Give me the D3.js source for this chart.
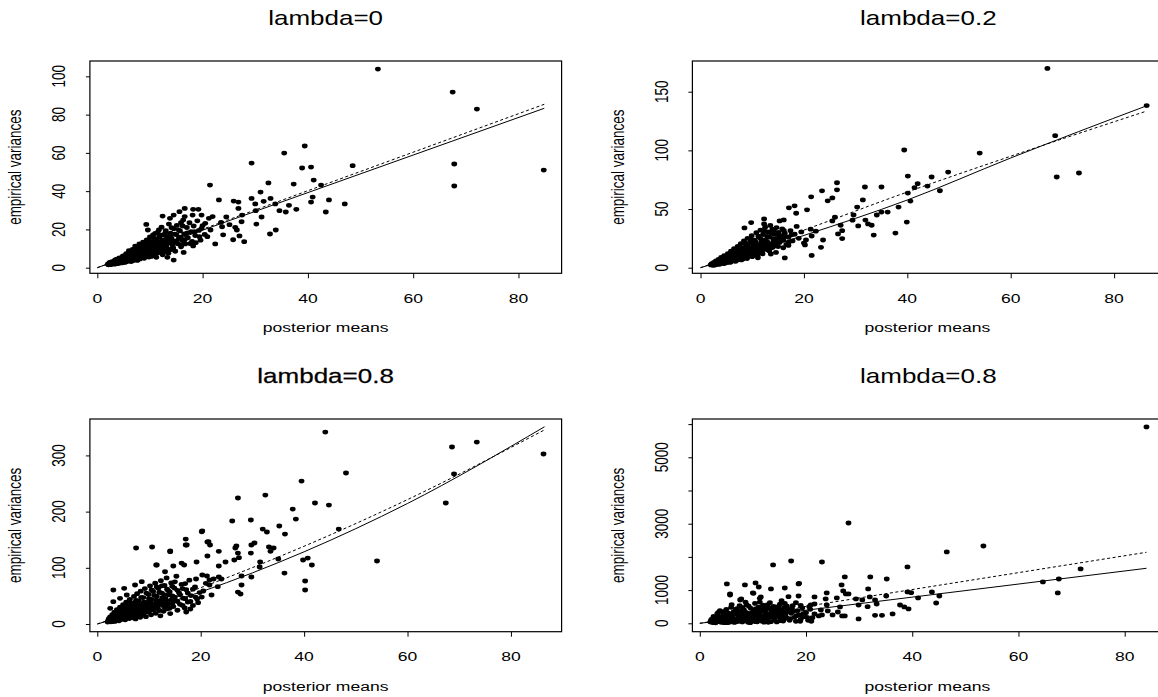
<!DOCTYPE html>
<html>
<head>
<meta charset="utf-8">
<script src="https://cdn.jsdelivr.net/npm/d3@7"></script>
<style>
html,body{margin:0;padding:0;background:#fff;}
svg{display:block;}
text{font-family:"Liberation Sans",Arial,Helvetica,sans-serif;fill:#000;}
</style>
</head>
<body>
<svg id="chart" width="1158" height="697"></svg>
<script>
// ---------------- DATA ----------------
const titles = ["lambda=0", "lambda=0.2", "lambda=0.8", "lambda=0.8"];
const xAxisLabel = "posterior means";
const yAxisLabel = "empirical variances";
const xTicks = [0, 20, 40, 60, 80];
const p1YTicks = [0, 20, 40, 60, 80, 100];
const p2YTicks = [0, 50, 100, 150];
const p3YTicks = [0, 100, 200, 300];
const p4YTicks = [0, 1000, 2000, 3000, 4000, 5000, 6000];
const p4YTickLabels = ["0", "1000", "", "3000", "", "5000", ""];

// panel 1: lambda=0  [posterior mean, empirical variance]
const p1Points = [
[53.3,103.8],[67.5,91.8],[72.1,82.9],[67.8,54.2],[67.8,42.7],[84.8,51.0],[48.5,53.3],[39.4,63.6],[35.5,59.9],[38.9,52.1],
[40.6,52.6],[41.1,45.8],[42.5,43.2],[29.3,54.7],[21.4,43.2],[32.5,44.3],[37.3,43.7],[31.0,39.5],[29.3,36.2],[31.6,34.7],
[32.9,36.2],[33.8,33.3],[30.0,33.3],[23.1,35.4],[25.9,34.8],[26.8,34.3],[26.8,31.0],[40.9,36.9],[40.6,34.3],[44.0,35.4],
[47.0,33.3],[36.4,32.6],[34.6,29.8],[35.8,29.1],[37.8,30.5],[43.4,29.1],[31.2,26.5],[30.1,29.8],[30.2,22.8],[32.8,17.6],
[33.9,19.7],[23.9,17.2],[22.4,12.4],[25.8,14.6],[27.9,13.6],[27.0,16.6],[26.5,19.7],[26.2,21.1],[25.1,22.5],[24.5,26.5],
[27.5,27.5],[27.4,24.0],[23.5,23.7],[23.7,21.4],[21.9,26.7],[21.2,25.8],[20.5,23.2],[19.8,20.6],[21.5,19.7],[20.9,16.2],
[19.4,16.2],[18.5,18.8],[18.7,13.1],[16.6,31.0],[18.2,30.5],[19.2,30.5],[19.8,27.5],[18.1,27.5],[15.6,29.3],[14.5,27.5],
[12.4,27.0],[13.8,25.8],[16.6,26.7],[15.9,23.5],[14.5,4.0],[16.4,8.0],[13.3,5.4],[9.3,22.6],[9.6,19.7],[11.7,19.7],[11.0,17.9],
[2.0,1.8],[2.3,2.5],[2.5,1.6],[2.8,3.1],[3.0,2.2],[3.1,1.9],[3.3,3.6],[3.5,2.6],[3.7,4.4],[3.9,3.0],[4.0,2.2],[4.2,5.1],
[4.4,3.7],[4.5,2.8],[4.7,4.5],[4.9,6.2],[5.0,3.3],[5.2,5.0],[5.3,2.9],[5.5,7.4],[5.6,4.1],[5.8,5.8],[5.9,3.5],[6.0,8.9],
[6.1,6.4],[6.3,4.6],[6.4,3.2],[6.6,7.1],[6.7,9.6],[6.8,5.2],[7.0,4.0],[7.1,6.6],[7.2,11.3],[7.4,8.1],[7.5,5.3],[7.6,3.8],
[7.8,9.9],[7.9,6.9],[8.0,12.4],[8.1,4.6],[8.3,8.4],[8.4,10.8],[8.5,6.0],[8.7,13.3],[8.8,7.4],[8.9,4.9],[9.0,11.2],[9.1,9.2],
[9.3,6.3],[9.4,14.5],[9.5,8.1],[9.7,12.3],[9.8,5.6],[9.9,10.1],[10.0,16.1],[10.1,7.6],[10.3,13.4],[10.4,9.4],[10.5,6.2],
[10.6,17.2],[10.8,11.6],[10.9,8.3],[11.0,14.8],[11.2,5.4],[11.3,10.2],[11.4,12.7],[11.5,18.6],[11.7,7.9],[11.8,15.8],[11.9,9.8],
[12.0,13.6],[12.2,21.2],[12.3,11.1],[12.4,6.7],[12.5,17.1],[12.7,8.9],[12.8,14.7],[12.9,12.0],[13.0,19.4],[13.2,10.2],[13.3,16.2],
[13.5,7.5],[13.6,22.8],[13.7,13.0],[13.9,18.1],[14.0,9.5],[14.1,15.3],[14.3,11.7],[14.5,20.4],[14.6,13.9],[14.8,8.6],[15.0,17.3],
[15.1,22.1],[15.3,12.5],[15.5,15.4],[15.7,19.2],[15.9,10.9],[16.1,14.2],[16.3,24.9],[16.5,17.6],[16.7,12.4],[17.0,21.0],[17.2,15.6],
[17.5,23.5],[17.8,18.9],[18.0,13.7],[18.3,21.8],[18.6,16.8],[19.0,24.5],[19.3,19.5],[19.6,14.4],[20.0,22.0],[20.4,17.4],
[2.2,2.1],[2.6,2.0],[2.9,2.6],[3.4,1.9],[3.6,3.3],[4.1,3.2],[4.6,3.9],[5.1,4.5],[5.4,3.7],[5.7,5.2],[6.2,5.5],[6.5,4.2],
[6.9,6.0],[7.3,4.7],[7.7,7.4],[8.2,6.4],[8.6,8.8],[9.2,7.3],[9.6,9.9],[10.2,8.7],[10.7,10.0],[11.1,9.0],[11.6,11.3],[12.1,10.0],
[12.6,12.9],[13.1,11.3],[13.4,14.4],[14.2,12.9],
[2.1,1.5],[2.4,2.8],[2.7,1.9],[3.2,2.9],[3.4,4.1],[3.8,2.4],[4.3,4.8],[4.6,2.5],[4.9,3.6],[5.2,6.1],[5.5,3.1],[5.7,6.8],
[6.0,4.4],[6.2,7.7],[6.5,5.9],[6.7,3.6],[7.0,8.3],[7.3,5.9],[7.5,10.2],[7.7,4.4],[8.0,7.0],[8.2,9.3],[8.5,11.6],[8.8,5.4],
[9.0,8.6],[9.2,12.9],[9.5,6.8],[9.7,10.7],[10.0,13.2],[10.2,5.9],[10.4,11.9],[10.6,8.9],[10.9,15.3],[11.1,7.0],[11.3,13.9],
[11.6,10.6],[11.9,16.9],[12.1,8.3],[12.4,14.2],[12.7,11.5],[12.9,18.0],[13.2,13.4],[13.5,9.3],[13.8,16.4],[14.1,20.9],[14.4,10.4],
[14.7,17.5],[15.0,13.6],[15.4,19.8],[15.8,16.0],[16.2,21.8],[16.6,14.6],[17.1,18.2],[17.6,12.6],[4.8,5.6],[5.9,7.6],[6.9,9.0],
[7.9,10.8],[8.9,12.2],[9.9,14.0],[10.9,12.7],[11.9,12.9],[3.6,2.1],[5.0,2.7],[6.4,4.0],[7.8,5.1],[9.4,6.1],[11.0,7.3],[12.6,8.1],
[14.4,9.8],[16.0,11.8],[18.2,11.4]
];
const p1Fit = [[0,0],[84.9,83.3]];
const p1Ref = [[0,0],[84.9,85.4]];

// panel 2: lambda=0.2
const p2Points = [
[67.1,169.8],[86.3,138.2],[68.6,112.5],[68.9,77.3],[73.2,80.7],[54.0,97.7],[39.4,100.3],[47.9,81.5],[44.7,77.3],[40.1,78.1],
[43.9,69.6],[42.0,71.6],[41.4,68.2],[46.3,65.6],[40.1,63.6],[40.6,56.8],[38.3,51.7],[36.2,47.4],[35.0,47.4],[34.1,44.9],
[39.9,38.9],[37.7,29.5],[33.5,27.8],[31.8,68.8],[35.0,68.8],[31.4,57.8],[30.3,51.7],[29.6,44.9],[29.4,40.5],[30.5,35.6],
[31.9,40.6],[32.4,37.3],[33.1,36.2],[26.4,72.4],[26.4,66.4],[23.5,65.5],[25.5,59.5],[24.6,57.0],[21.4,60.4],[20.6,49.3],
[18.2,52.7],[17.1,51.0],[18.5,46.4],[15.3,39.9],[16.1,40.7],[16.3,8.3],[21.5,10.5],[23.3,17.4],[23.7,23.6],[21.5,27.0],
[21.3,32.8],[22.3,31.1],[20.2,19.4],[20.4,23.6],[26.0,43.0],[25.5,39.9],[27.1,36.2],[27.4,31.6],[26.6,28.8],[27.4,24.8],
[12.3,41.6],[12.3,37.3],[8.5,33.9],[9.8,38.5],[12.3,31.6],[13.6,11.7],[13.5,16.5],[11.1,8.5],
[2.0,2.4],[2.2,3.5],[2.4,2.1],[2.6,4.6],[2.8,3.0],[3.0,5.8],[3.1,2.7],[3.3,4.0],[3.5,7.1],[3.6,3.3],[3.8,5.3],[4.0,8.8],
[4.1,4.1],[4.3,6.5],[4.5,3.6],[4.6,10.2],[4.8,5.0],[5.0,7.9],[5.1,4.4],[5.3,12.0],[5.4,6.2],[5.6,9.3],[5.8,5.1],[5.9,14.1],
[6.1,7.4],[6.2,11.0],[6.4,5.8],[6.5,16.3],[6.7,8.6],[6.9,12.7],[7.0,6.3],[7.2,18.2],[7.3,10.0],[7.5,14.5],[7.6,7.1],[7.8,20.5],
[8.0,11.4],[8.1,16.6],[8.3,8.0],[8.4,22.9],[8.6,13.0],[8.8,18.7],[8.9,9.2],[9.1,25.0],[9.3,14.9],[9.4,10.5],[9.6,21.0],[9.8,12.0],
[9.9,27.3],[10.1,16.8],[10.3,11.1],[10.4,23.4],[10.6,14.0],[10.8,29.8],[10.9,19.0],[11.1,12.6],[11.3,25.8],[11.4,16.0],[11.6,32.0],
[11.8,21.5],[11.9,13.8],[12.1,28.2],[12.3,18.2],[12.5,34.5],[12.6,23.8],[12.8,15.5],[13.0,30.5],[13.2,20.3],[13.4,26.0],[13.5,36.0],
[13.7,17.0],[13.9,32.8],[14.1,22.6],[14.3,28.4],[14.5,19.0],[14.7,34.2],[14.9,25.0],[15.1,30.0],[15.3,21.4],[15.6,27.2],[15.8,33.0],
[16.0,23.6],[16.3,29.4],[16.6,19.8],[17.0,26.0],[17.4,31.5],[17.8,22.8],[18.2,28.5],[18.6,35.2],[19.0,25.0],[19.5,30.5],[20.0,21.0],
[2.3,2.9],[2.7,2.2],[3.2,3.4],[3.7,2.9],[4.2,5.1],[4.7,3.9],[5.2,5.6],[5.7,4.5],[6.3,6.6],[6.8,5.4],[7.4,8.5],[7.9,6.6],
[8.5,10.6],[9.0,7.8],[9.5,12.8],[10.0,9.4],[10.5,15.5],[11.0,10.6],[11.5,18.5],[12.0,11.8],[12.7,20.5],[13.3,14.2],[14.0,17.5],[14.6,13.0],
[2.1,3.1],[2.5,3.9],[2.9,2.5],[3.4,5.0],[3.9,3.8],[4.4,7.3],[4.9,4.7],[5.1,9.6],[5.5,7.0],[6.0,5.6],[6.0,10.4],[6.6,7.9],
[6.6,13.2],[7.1,9.2],[7.1,15.4],[7.7,11.8],[7.7,17.0],[8.2,13.5],[8.2,7.4],[8.7,15.9],[8.7,21.0],[9.2,11.3],[9.2,17.8],[9.7,14.0],
[9.7,23.6],[10.2,19.7],[10.2,13.0],[10.7,21.8],[10.7,17.3],[11.2,26.9],[11.2,14.8],[11.7,20.3],[11.7,24.4],[12.2,16.5],[12.2,30.8],
[12.9,22.0],[12.9,26.7],[13.6,19.5],[13.6,29.8],[14.2,24.5],[14.2,31.6],[14.8,21.6],[15.2,27.6],[15.6,24.0],[16.1,31.8],[16.5,26.5],
[17.1,22.0],[17.6,28.0],[3.0,3.7],[4.0,4.8],[5.0,6.3],[6.0,7.9],[7.0,9.7],[8.0,9.9],[9.0,12.7],[10.0,14.6],[11.0,16.9],[12.0,19.6],
[13.0,17.9],[14.0,20.0],[15.0,18.0],[16.0,17.0],[17.0,19.0]
];
const p2Fit = [[0,0],[20,27.5],[40,57.7],[60,93.5],[86.3,138]];
const p2Ref = [[0,0],[20,32],[40,64.5],[60,95],[86.3,133.5]];

// panel 3: lambda=0.8
const p3Points = [
[44.1,341.6],[68.6,315],[73.4,323.8],[86.3,302.5],[69.0,266.9],[67.4,215.3],[48.1,268.7],[39.5,254.4],[32.5,229.5],[27.2,224.2],
[37.8,204.6],[42.1,215.3],[44.8,211.7],[38.4,186.8],[29.7,185.1],[26.1,183.3],[46.7,169.0],[32.0,169.0],[32.8,163.7],[35.2,174.4],
[36.3,160.1],[20.3,165.5],[21.3,145.9],[21.8,140.6],[17.1,151.2],[17.1,140.6],[7.5,135.2],[10.6,137.0],[14.1,129.9],[26.7,135.2],
[26.9,138.8],[29.8,140.6],[30.4,144.1],[33.2,137.0],[34.1,135.2],[33.5,129.3],[29.7,126.3],[27.2,126.3],[27.4,118.0],[26.5,113.9],
[21.3,121.0],[23.5,129.3],[24.8,110.3],[35.0,115.7],[31.5,110.3],[31.4,101.4],[23.5,103.2],[19.2,110.3],[11.4,105.0],[14.7,103.2],
[16.3,108.5],[16.8,105.0],[39.8,113.9],[40.7,117.4],[41.5,105.0],[36.2,90.7],[40.2,76.5],[40.2,60.5],[54.1,112.1],[29.8,83.6],
[27.9,85.4],[27.9,69.4],[27.2,56.9],[27.7,53.4],[23.3,66.4],[23.5,83.6],[24.0,80.1],[22.1,51.6],[20.5,58.7],[19.1,80.1],
[20.3,87.2],[21.2,85.4],[21.7,78.3],[22.5,80.1],[21.0,72.4],[21.7,69.4],[20.2,48.0],[18.0,26.7],[17.2,21.4],
[3.1,60.5],[5.2,63.5],[7.3,69.4],[8.6,75.3],[11.5,105],[13.1,93],[14.1,128.7],[17.3,140.6],[20.2,164.2],[21.5,146.4],
[2.5,27.9],[3.1,39.7],[4.4,45.7],[5.7,51.6],
[2.0,3.5],[2.2,8.0],[2.4,5.2],[2.5,12.5],[2.7,7.0],[2.9,16.8],[3.0,4.8],[3.2,10.3],[3.3,21.0],[3.5,6.9],[3.6,14.2],[3.8,25.5],
[3.9,9.1],[4.1,18.0],[4.2,5.8],[4.4,30.0],[4.5,12.3],[4.7,22.4],[4.8,8.4],[5.0,34.5],[5.1,15.6],[5.3,27.0],[5.4,7.4],[5.6,39.0],
[5.7,11.5],[5.9,20.5],[6.0,31.8],[6.2,9.6],[6.3,44.0],[6.5,16.0],[6.6,25.5],[6.8,12.8],[6.9,36.5],[7.1,49.0],[7.2,19.5],[7.4,9.0],
[7.5,30.0],[7.7,54.0],[7.8,14.5],[8.0,41.0],[8.1,23.5],[8.3,11.8],[8.4,58.5],[8.6,34.0],[8.8,17.5],[8.9,47.0],[9.1,27.5],[9.2,63.0],
[9.4,13.0],[9.6,38.5],[9.7,21.5],[9.9,52.5],[10.0,31.5],[10.2,68.0],[10.4,16.5],[10.5,44.0],[10.7,25.5],[10.8,58.0],[11.0,36.0],
[11.2,72.5],[11.3,19.0],[11.5,49.5],[11.7,29.5],[11.8,63.5],[12.0,40.5],[12.2,14.5],[12.3,77.0],[12.5,55.0],[12.7,33.5],[12.8,22.5],
[13.0,68.5],[13.2,45.0],[13.4,82.0],[13.5,27.0],[13.7,59.5],[13.9,37.5],[14.1,18.5],[14.3,73.0],[14.5,50.0],[14.7,31.0],[14.9,64.0],
[15.1,42.0],[15.3,85.0],[15.5,24.5],[15.8,55.5],[16.0,35.0],[16.3,70.5],[16.6,46.0],[16.9,28.5],[17.2,61.0],[17.5,39.0],[17.8,78.0],
[18.1,50.5],[18.5,33.0],[18.9,66.0],[19.3,44.5],[19.8,56.0],
[2.1,5.5],[2.6,3.8],[3.1,7.6],[3.4,4.6],[3.7,11.0],[4.0,6.4],[4.3,14.6],[4.6,8.9],[4.9,19.3],[5.2,11.0],[5.5,24.0],[5.8,13.8],
[6.1,28.5],[6.4,12.0],[6.7,32.5],[7.0,15.5],[7.3,37.8],[7.6,17.5],[7.9,26.8],[8.2,20.2],[8.7,29.5],[9.0,24.0],[9.5,33.0],[9.8,26.0],
[10.3,38.0],[10.9,30.5],[11.4,42.5],[12.1,35.0],[12.6,47.0],[13.3,39.5],[13.8,52.0],[14.4,43.5],
[2.3,10.0],[2.8,4.5],[3.0,13.5],[3.3,8.2],[3.7,18.5],[4.0,12.0],[4.3,24.0],[4.6,16.0],[5.0,10.0],[5.0,28.0],[5.5,18.5],[5.5,33.0],
[6.0,14.0],[6.0,24.0],[6.5,37.5],[6.5,20.5],[7.0,11.0],[7.0,28.5],[7.5,42.0],[7.5,22.5],[8.0,16.0],[8.0,34.5],[8.5,47.5],[8.5,26.0],
[9.0,19.0],[9.0,39.0],[9.5,55.0],[9.5,29.5],[10.0,22.5],[10.0,45.0],[10.5,60.5],[10.5,34.0],[11.0,26.0],[11.0,51.0],[11.5,66.0],
[11.5,38.0],[12.0,24.0],[12.0,56.5],[12.5,44.0],[12.5,68.0],[13.0,30.0],[13.0,52.0],[13.5,62.0],[13.5,41.0],[14.0,28.0],[14.0,57.0],
[14.5,67.0],[14.5,36.0],[15.0,48.0],[15.0,75.0],[15.5,60.0],[15.5,40.0],[16.0,52.0],[16.5,63.0],[16.5,33.0],[17.0,45.0],[17.0,72.0],
[17.5,55.0],[18.0,40.0],[18.5,62.0],[19.0,48.0],[19.5,38.0],[2.5,6.5],[3.5,9.5],[4.5,13.0],[5.5,15.0],[6.5,17.0],[7.5,19.0],
[8.5,21.5],[9.5,24.5],[10.5,28.0],[11.5,31.0],[12.5,36.5],[13.5,33.0]
];
const p3Fit = [[0,0],[20,57],[40,128.5],[60,214.5],[86.5,351]];
const p3Ref = [[0,0],[20,64.6],[40,138.4],[60,221.4],[86.5,345.5]];

// panel 4: lambda=0.8
const p4Points = [
[84.1,5914],[28.0,3022],[53.4,2329],[46.5,2149],[39.1,1697],[71.7,1637],[67.6,1335],[64.6,1245],[67.4,914],[17.2,1877],
[13.8,1757],[23.0,1847],[27.3,1396],[32.1,1396],[35.2,1335],[26.7,1155],[31.7,1034],[27.0,974],[27.5,884],[28.0,884],
[5.1,1185],[8.5,1155],[10.5,1215],[11.1,1094],[13.4,1034],[16.0,1064],[18.6,1185],[18.6,823],[5.7,884],[7.8,733],
[10.0,914],[11.5,793],[16.7,803],[21.6,793],[23.7,733],[23.9,914],[25.8,763],[29.4,733],[30.6,703],[29.9,552],
[32.0,793],[33.0,703],[33.3,582],[31.6,502],[35.1,823],[39.1,944],[39.8,924],[41.1,763],[43.7,944],[45.1,823],
[44.5,612],[37.7,552],[38.5,492],[39.3,432],[36.3,281],[34.3,241],[33.0,241],[29.9,131],[26.8,221],[27.3,221],
[25.0,251],[26.0,341],[22.8,402],[24.1,372],[23.0,251],[21.6,582],[20.9,552],[26.4,492],[23.9,552],[22.4,221],
[5.7,852],[7.6,702],[10.1,903],[11.3,753],[18.7,1205],
[2.0,40],[2.2,120],[2.4,25],[2.6,210],[2.8,70],[3.0,15],[3.1,160],[3.3,290],[3.5,50],[3.6,110],[3.8,380],[4.0,30],
[4.1,200],[4.3,90],[4.5,260],[4.6,20],[4.8,150],[5.0,420],[5.1,60],[5.3,310],[5.4,130],[5.6,35],[5.8,230],[5.9,480],
[6.1,85],[6.2,170],[6.4,350],[6.5,25],[6.7,120],[6.9,270],[7.0,440],[7.2,55],[7.3,190],[7.5,530],[7.6,95],[7.8,320],
[8.0,40],[8.1,150],[8.3,410],[8.4,240],[8.6,75],[8.8,560],[8.9,180],[9.1,30],[9.3,300],[9.4,120],[9.6,450],[9.8,60],
[9.9,220],[10.1,380],[10.3,100],[10.4,600],[10.6,160],[10.8,45],[10.9,280],[11.1,490],[11.3,130],[11.4,350],[11.6,70],
[11.8,210],[11.9,550],[12.1,35],[12.3,320],[12.5,150],[12.6,430],[12.8,90],[13.0,250],[13.2,620],[13.4,50],[13.5,370],
[13.7,180],[13.9,510],[14.1,110],[14.3,290],[14.5,40],[14.7,450],[14.9,200],[15.1,580],[15.3,130],[15.5,340],[15.7,70],
[15.9,480],[16.1,240],[16.3,160],[16.6,400],[16.9,90],[17.2,300],[17.5,530],[17.8,180],[18.1,60],[18.4,380],[18.7,250],
[19.0,120],[19.3,460],[19.6,200],[20.0,320],[20.4,90],[20.8,420],[21.2,170],[21.6,280],
[2.1,75],[2.5,140],[2.9,45],[3.4,230],[3.9,85],[4.4,320],[4.9,110],[5.5,190],[6.0,260],[6.6,75],[7.1,340],[7.7,140],
[8.2,230],[8.7,330],[9.2,80],[9.7,270],[10.2,190],[10.7,390],[11.2,240],[11.7,140],[12.2,470],[12.7,290],[13.3,200],
[13.8,400],[14.4,330],[15.0,260],[15.6,410],[16.2,320],
[2.3,95],[2.7,20],[3.2,60],[3.7,175],[4.2,45],[4.7,240],[5.2,20],[5.7,145],[6.3,310],[6.8,45],[7.4,210],[7.9,380],
[8.5,100],[9.0,250],[9.5,20],[10.0,330],[10.5,50],[11.0,180],[11.5,420],[12.0,100],[12.4,240],[12.9,30],[13.6,290],[14.0,170],
[14.6,380],[15.2,80],[15.8,220],[16.4,520],[17.0,140],[17.6,360],[18.2,230],[18.9,60],[19.5,290],[20.2,180],[20.6,500],[21.0,60],
[3.5,330],[4.7,360],[5.6,280],[6.8,420],[8.0,480],[9.2,520],[10.6,440],[12.0,380],[13.4,460],[14.9,520],[16.0,600],[17.3,440],
[19.0,540],[6.0,560],[8.6,640],[11.3,640],[12.8,560],[15.4,680],[18.1,620]
];
const p4Fit = [[0,0],[84.1,1657]];
const p4Ref = [[0,0],[84.1,2139]];

// ---------------- LAYOUT ----------------
const SX = 1.3;          // horizontal stretch of the original image
const TICK_FS = 13.5, LAB_FS = 13.5, TITLE_FS = 20;

const panels = [
  {title: titles[0], pts: p1Points, fit: p1Fit, ref: p1Ref, yTicks: p1YTicks, yLabels: p1YTicks.map(String),
   box: [89.9, 561.6, 61, 273.3], xd: [-1.41, 88.19], yd: [-2.93, 108.02],
   titleX: 325.6, titleY: 25, xtY: 302.5, xlabX: 325.6, xlabY: 332, ylabX: 21, ytX: 64.5, bold: false},
  {title: titles[1], pts: p2Points, fit: p2Fit, ref: p2Ref, yTicks: p2YTicks, yLabels: p2YTicks.map(String),
   box: [692.4, 1164, 61, 273.3], xd: [-1.57, 89.65], yd: [-4.77, 176.17],
   titleX: 928.3, titleY: 25, xtY: 302.5, xlabX: 927.4, xlabY: 332, ylabX: 623.6, ytX: 668, bold: false},
  {title: titles[2], pts: p3Points, fit: p3Fit, ref: p3Ref, yTicks: p3YTicks, yLabels: p3YTicks.map(String),
   box: [89.9, 561.6, 419, 631.7], xd: [-1.43, 89.8], yd: [-13.7, 364.8],
   titleX: 325.6, titleY: 383, xtY: 661, xlabX: 325.6, xlabY: 691, ylabX: 21, ytX: 64.5, bold: true},
  {title: titles[3], pts: p4Points, fit: p4Fit, ref: p4Ref, yTicks: p4YTicks, yLabels: p4YTickLabels,
   box: [692.4, 1164, 419, 631.7], xd: [-1.39, 87.4], yd: [-253, 6154],
   titleX: 928.3, titleY: 383, xtY: 661, xlabX: 927.4, xlabY: 691, ylabX: 623.6, ytX: 668, bold: false}
];

const svg = d3.select("#chart");
svg.append("rect").attr("width", 1158).attr("height", 697).attr("fill", "#fff");

function stretchedText(g, x, y, str, fs, rotate, extra) {
  const t = g.append("text")
    .attr("transform", `translate(${x},${y}) scale(${SX},1)` + (rotate ? " rotate(-90)" : ""))
    .attr("text-anchor", "middle")
    .attr("font-size", fs)
    .text(str);
  if (extra) { t.attr("stroke", "#000").attr("stroke-width", 0.25); }
  return t;
}

panels.forEach(p => {
  const [l, r, t, b] = p.box;
  const x = d3.scaleLinear().domain(p.xd).range([l, r]);
  const y = d3.scaleLinear().domain(p.yd).range([b, t]);
  const g = svg.append("g");

  // points
  g.append("g").selectAll("ellipse").data(p.pts).join("ellipse")
    .attr("cx", d => x(d[0])).attr("cy", d => y(d[1]))
    .attr("rx", 2.9).attr("ry", 2.4).attr("fill", "#000");

  const line = d3.line().x(d => x(d[0])).y(d => y(d[1])).curve(d3.curveMonotoneX);
  g.append("path").datum(p.ref).attr("d", line).attr("fill", "none")
    .attr("stroke", "#000").attr("stroke-width", 1).attr("stroke-dasharray", "3,2.5");
  g.append("path").datum(p.fit).attr("d", line).attr("fill", "none")
    .attr("stroke", "#000").attr("stroke-width", 1);

  // axes (tick marks)
  const xa = g.append("g").attr("transform", `translate(0,${b})`)
    .call(d3.axisBottom(x).tickValues(xTicks).tickSize(5).tickSizeOuter(0).tickFormat(""));
  xa.select(".domain").remove();
  xa.selectAll("line").attr("stroke", "#000").attr("stroke-width", 1);
  const ya = g.append("g").attr("transform", `translate(${l},0)`)
    .call(d3.axisLeft(y).tickValues(p.yTicks).tickSize(4).tickSizeOuter(0).tickFormat(""));
  ya.select(".domain").remove();
  ya.selectAll("line").attr("stroke", "#000").attr("stroke-width", 1);

  // box
  g.append("rect").attr("x", l).attr("y", t).attr("width", r - l).attr("height", b - t)
    .attr("fill", "none").attr("stroke", "#000").attr("stroke-width", 1.2);

  // tick labels
  xTicks.forEach(v => stretchedText(g, x(v), p.xtY, String(v), TICK_FS, false));
  p.yTicks.forEach((v, i) => { if (p.yLabels[i] !== "") stretchedText(g, p.ytX, y(v), p.yLabels[i], TICK_FS, true); });

  // axis titles
  stretchedText(g, p.xlabX, p.xlabY, xAxisLabel, LAB_FS, false);
  stretchedText(g, p.ylabX, (t + b) / 2, yAxisLabel, LAB_FS, true);

  // panel title
  stretchedText(g, p.titleX, p.titleY, p.title, TITLE_FS, false, p.bold);
});
</script>
</body>
</html>
